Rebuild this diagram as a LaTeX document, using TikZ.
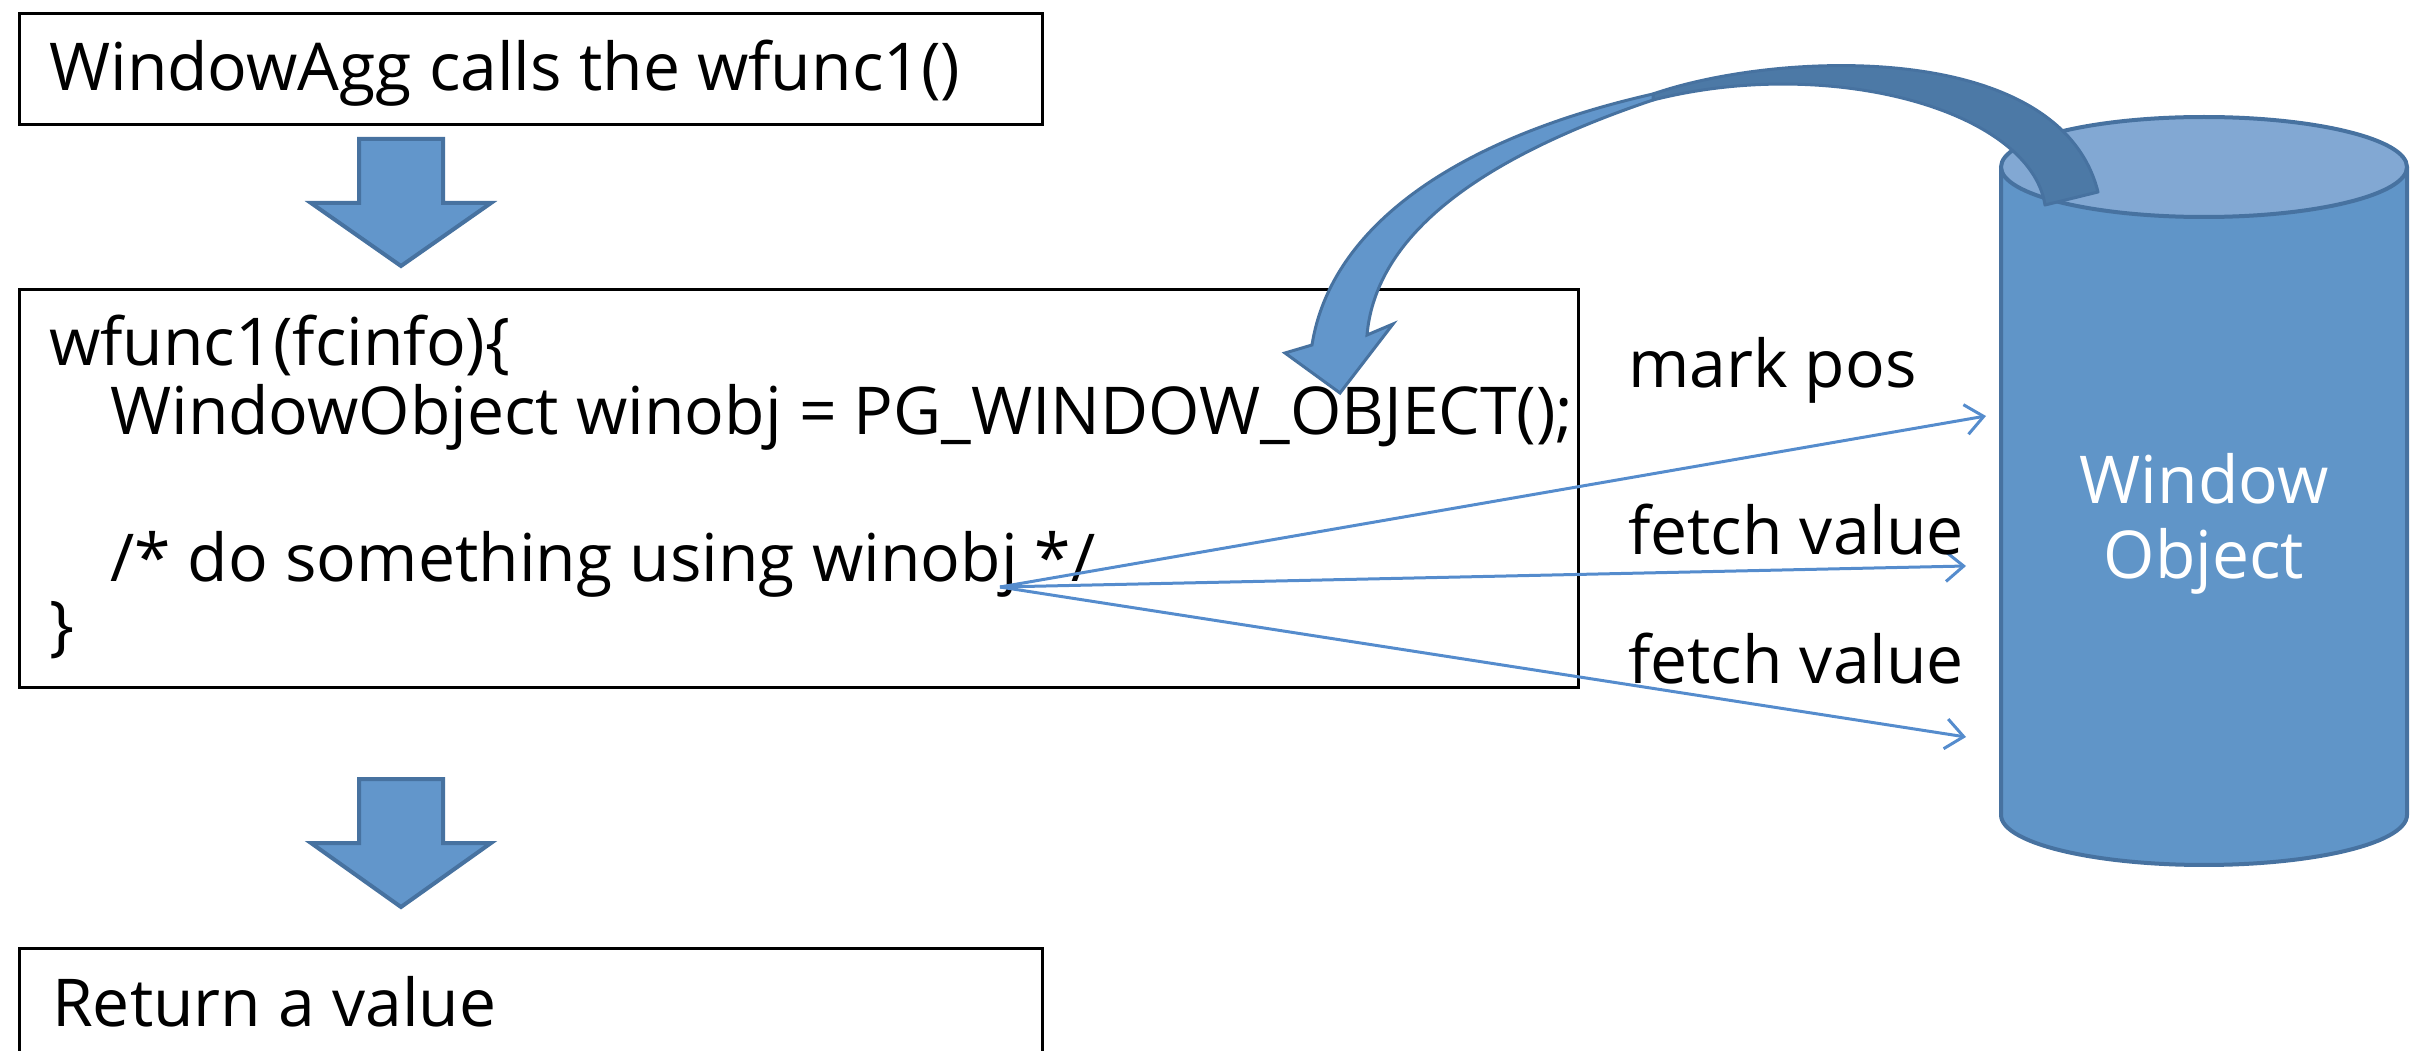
\documentclass[tikz,border=0pt]{standalone}
\usepackage{fontspec}
\setmainfont{Open Sans}
\usetikzlibrary{arrows.meta}

\definecolor{blockfill}{RGB}{98,150,203}
\definecolor{blockedge}{RGB}{71,114,160}
\definecolor{cylbody}{RGB}{96,149,200}
\definecolor{cyltop}{RGB}{130,168,211}
\definecolor{curvedark}{RGB}{76,121,166}
\definecolor{thinline}{RGB}{85,140,205}

\tikzset{
  textbox/.style={draw=black, line width=3pt, fill=none, inner sep=0pt, anchor=north west},
  label/.style={anchor=base west, inner sep=0pt, font=\fontsize{66pt}{75pt}\selectfont},
  blockarrow/.style={fill=blockfill, draw=blockedge, line width=4pt, line join=miter},
  probe/.style={draw=thinline, line width=3pt, -{Straight Barb[length=18pt, width=30pt, line width=3pt]}},
}

\begin{document}
\begin{tikzpicture}[x=1pt, y=-1pt]
\useasboundingbox (0,0) rectangle (2413,1051);

% ---- boxes ----
\node[textbox, minimum width=1023pt, minimum height=111pt] (call) at (18,12) {};
\node[label] (calltext) at (49,91) {WindowAgg calls the wfunc1()};

\node[textbox, minimum width=1559pt, minimum height=398pt] (code) at (18,288) {};
\node[label] (c1) at (49,365) {wfunc1(fcinfo)\{};
\node[label] (c2) at (110,434) {WindowObject winobj = PG\_WINDOW\_OBJECT();};
\node[label] (c4) at (110,581) {/* do something using winobj */};
\node[label] (c5) at (49,648) {\}};

\node[textbox, minimum width=1023pt, minimum height=140pt] (ret) at (18,947) {};
\node[label] (rettext) at (52,1026) {Return a value};

% ---- block arrows between the boxes ----
\filldraw[blockarrow] (359,139) -- (443,139) -- (443,203) -- (491,203) -- (401,266)
  -- (311,203) -- (359,203) -- cycle;
\filldraw[blockarrow] (359,779) -- (443,779) -- (443,843) -- (491,843) -- (401,907)
  -- (311,843) -- (359,843) -- cycle;

% ---- window object cylinder ----
\fill[cylbody] (2001,167) -- (2001,815)
  -- plot[domain=180:0, samples=60] ({2204+203*cos(\x)},{815+50*sin(\x)})
  -- (2407,167) -- cycle;
\draw[blockedge, line width=4pt] (2001,167) -- (2001,815)
  -- plot[domain=180:0, samples=60] ({2204+203*cos(\x)},{815+50*sin(\x)})
  -- (2407,167);
\filldraw[fill=cyltop, draw=blockedge, line width=4pt] (2204,167) ellipse [x radius=203pt, y radius=50pt];
\node[anchor=base, inner sep=0pt, text=white, font=\fontsize{66pt}{75pt}\selectfont] (wo1) at (2204,503) {Window};
\node[anchor=base, inner sep=0pt, text=white, font=\fontsize{66pt}{75pt}\selectfont] (wo2) at (2204,578) {Object};

% ---- curved arrow from the window object back into the function ----
% back face of the ribbon (tail end, resting on the cylinder top)
\filldraw[fill=curvedark, draw=blockedge, line width=3pt, line join=round]
  (1653,94) .. controls (1780,50) and (2060,40) .. (2098,192)
  -- (2045,205)
  .. controls (2030,110) and (1830,55) .. (1653,100)
  -- cycle;
% front face with the arrow head
\filldraw[fill=blockfill, draw=blockedge, line width=3pt, line join=miter]
  (1653,94) .. controls (1450,140) and (1330,230) .. (1312,345)
  -- (1285,353) -- (1340,393) -- (1393,324) -- (1367,335)
  .. controls (1375,245) and (1460,165) .. (1653,100)
  -- cycle;

% ---- calls made through winobj ----
\coordinate (src) at (1000,587);
\coordinate (markend) at (1986,416);
\coordinate (fetchend1) at (1966,566);
\coordinate (fetchend2) at (1966,737);
\draw[probe] (src) -- (markend);
\draw[probe] (src) -- (fetchend1);
\draw[probe] (src) -- (fetchend2);

\node[label] (mark) at (1628,387) {mark pos};
\node[label] (fetch1) at (1628,554) {fetch value};
\node[label] (fetch2) at (1628,683) {fetch value};
\end{tikzpicture}
\end{document}
